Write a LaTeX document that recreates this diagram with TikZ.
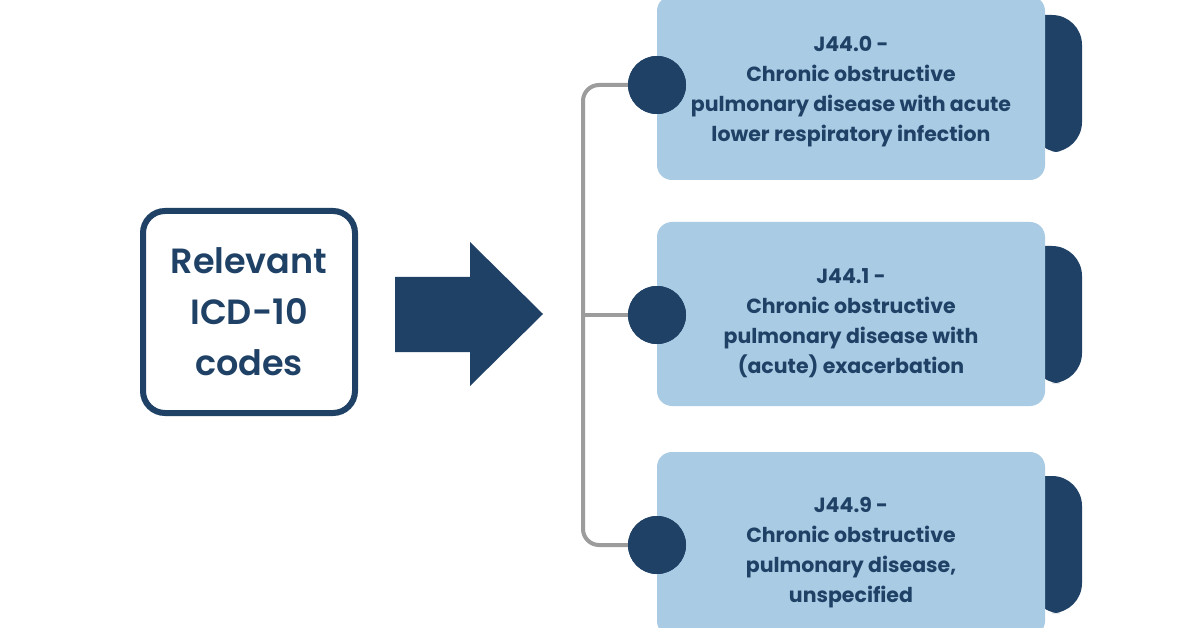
\documentclass[tikz,border=0pt]{standalone}
\usepackage{fontspec}
\setmainfont{Poppins}
\newfontfamily\popsemi{Poppins SemiBold}
\definecolor{navy}{HTML}{1F4166}
\definecolor{cardblue}{HTML}{A9CBE3}
\definecolor{linegray}{HTML}{9C9C9C}
\begin{document}
\begin{tikzpicture}[x=1pt,y=-1pt]
\tikzset{
  card/.style={fill=cardblue, rounded corners=15pt, minimum width=388pt, minimum height=184pt, inner sep=0pt},
  cardtext/.style={text=navy, font=\fontsize{20.5}{30}\selectfont\bfseries, align=center},
  dot/.style={circle, fill=navy, minimum size=58pt, inner sep=0pt},
  conn/.style={draw=linegray, line width=4pt},
}
\useasboundingbox (0,0) rectangle (1196,628);
\fill[white] (0,0) rectangle (1196,628);

% left box
\node[draw=navy, line width=6pt, rounded corners=22pt, minimum width=212pt, minimum height=202pt,
      text=navy, font=\fontsize{35}{51}\selectfont\popsemi, align=center, inner sep=0pt]
  (src) at (249,312) {Relevant\\ICD-10\\codes};

% big arrow
\fill[navy] (395,277) -- (470,277) -- (470,242) -- (543,314) -- (470,386) -- (470,352) -- (395,352) -- cycle;

% tabs
\foreach \y in {15,246,476}{
  \fill[navy, rounded corners=30pt] (1030,\y) -- (1082,\y) -- (1082,\y+137) -- (1030,\y+137) [sharp corners] -- cycle;
}

% cards
\node[card] (k1) at (851,88) {};
\node[card] (k2) at (851,314) {};
\node[card] (k3) at (851,544) {};

\node[cardtext] (t1) at (851,92) {J44.0 -\\Chronic obstructive\\pulmonary disease with acute\\lower respiratory infection};
\node[cardtext] (t2) at (851,323) {J44.1 -\\Chronic obstructive\\pulmonary disease with\\(acute) exacerbation};
\node[cardtext] (t3) at (851,553) {J44.9 -\\Chronic obstructive\\pulmonary disease,\\unspecified};

% circles
\node[dot] (c1) at (657,85) {};
\node[dot] (c2) at (657,315) {};
\node[dot] (c3) at (657,545) {};

% connectors
\draw[conn, rounded corners=16pt] (c1.west) -- (583,85) -- (583,545) -- (c3.west);
\draw[conn] (583,315) -- (c2.west);
\node[dot] at (c1) {};
\node[dot] at (c2) {};
\node[dot] at (c3) {};
\end{tikzpicture}
\end{document}
